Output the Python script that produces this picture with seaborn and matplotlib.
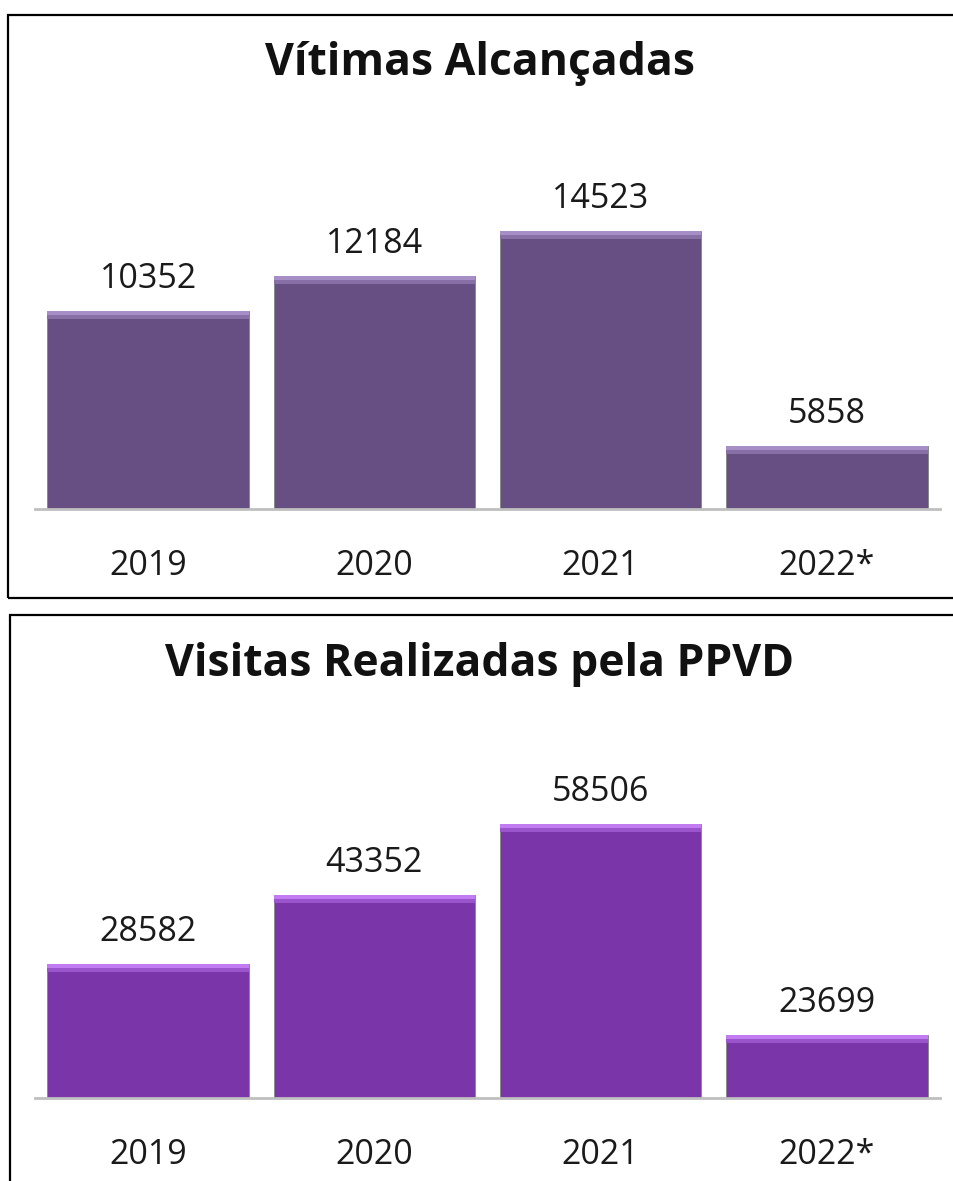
import matplotlib
matplotlib.use("Agg")
import matplotlib.pyplot as plt
import seaborn as sns
import pandas as pd
from matplotlib.patches import Rectangle

years = ["2019", "2020", "2021", "2022*"]
# printed labels
vitimas = [10352, 12184, 14523, 5858]
visitas = [28582, 43352, 58506, 23699]
# bar heights as drawn in the picture (the 2022* bars are drawn shorter than their labels)
vitimas_bar = [10352, 12184, 14523, 3290]
visitas_bar = [28582, 43352, 58506, 13450]
title_top = "Vítimas Alcançadas"
title_bottom = "Visitas Realizadas pela PPVD"
color_top = "#674F84"
color_bottom = "#7A35A8"
hl_top = ["#A68FC6", "#8870A6"]
hl_bottom = ["#C17CF2", "#9B55CC"]

sns.set_theme(style="white")
plt.rcParams["font.family"] = ["Open Sans", "DejaVu Sans"]

fig = plt.figure(figsize=(9.54, 11.81), dpi=100)
W, H = 954, 1181

def px_axes(x0, y0, x1, y1):
    return fig.add_axes([x0 / W, 1 - y1 / H, (x1 - x0) / W, (y1 - y0) / H])

# panel borders
for (bx0, by0, bx1, by1) in [(8, 15, 962, 598), (10, 615, 962, 1190)]:
    fig.patches.append(Rectangle((bx0 / W, 1 - by1 / H), (bx1 - bx0) / W, (by1 - by0) / H,
                                 transform=fig.transFigure, fill=False,
                                 edgecolor="black", linewidth=1.6, zorder=0))

def panel(ax, heights, labels, color, hl, ymax, title, title_y):
    df = pd.DataFrame({"ano": years, "valor": heights})
    sns.barplot(data=df, x="ano", y="valor", color=color, saturation=1,
                width=0.89, ax=ax, edgecolor="#8a8a8a", linewidth=0.7)
    ax.set_xlim(-0.5, 3.5)
    ax.set_ylim(0, ymax)
    px = ymax / 379.0
    for p in list(ax.patches):
        x, w, h = p.get_x(), p.get_width(), p.get_height()
        ax.add_patch(Rectangle((x, h - 4 * px), w, 4 * px, facecolor=hl[0],
                               edgecolor="none", zorder=3))
        ax.add_patch(Rectangle((x, h - 8 * px), w, 4 * px, facecolor=hl[1],
                               edgecolor="none", zorder=3))
    ax.bar_label(ax.containers[0], labels=[str(v) for v in labels], padding=11,
                 fontsize=24.5, color="#1a1a1a")
    ax.set_xlabel("")
    ax.set_ylabel("")
    ax.set_yticks([])
    ax.tick_params(axis="x", length=0, pad=29, labelsize=24.5, labelcolor="#1a1a1a")
    for s in ["top", "left", "right"]:
        ax.spines[s].set_visible(False)
    ax.spines["bottom"].set_color("#BFBFBF")
    ax.spines["bottom"].set_linewidth(2)
    ax.set_facecolor("none")
    fig.text(0.5 + 3 / W, 1 - title_y / H, title, ha="center", va="center",
             fontsize=32, fontweight="bold", color="#111111")

ax1 = px_axes(35, 130, 940, 509)
panel(ax1, vitimas_bar, vitimas, color_top, hl_top, 379 / 0.01914, title_top, 64)

ax2 = px_axes(35, 720, 940, 1098)
panel(ax2, visitas_bar, visitas, color_bottom, hl_bottom, 378 / 0.004683, title_bottom, 664)

fig.savefig("out.png", dpi=100, facecolor="white")
